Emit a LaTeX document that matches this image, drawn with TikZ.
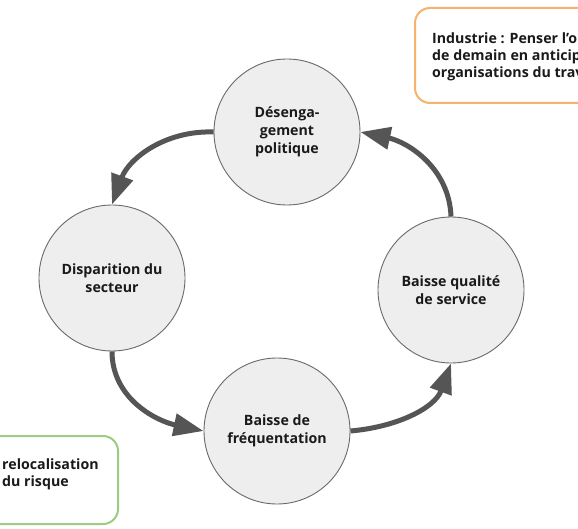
\documentclass[tikz,border=0pt]{standalone}
\usepackage{fontspec}
\setmainfont{Open Sans}
\usetikzlibrary{arrows.meta}
\definecolor{circfill}{HTML}{EEEEEE}
\definecolor{circline}{HTML}{6A6A6A}
\definecolor{arrowgray}{HTML}{555555}
\definecolor{txt}{HTML}{1A1A1A}
\definecolor{orangebox}{HTML}{F5B36E}
\definecolor{greenbox}{HTML}{9CCB82}
\begin{document}
\begin{tikzpicture}[x=1pt,y=-1pt,
  cyc/.style={circle, draw=circline, fill=circfill, minimum size=146pt, inner sep=0pt,
    align=center, text=txt, font=\bfseries\fontsize{14.2}{18}\selectfont, line width=0.9pt},
  flow/.style={draw=arrowgray, line width=5pt, -{Triangle[length=30pt,width=22pt]}},
  note/.style={rounded corners=15pt, line width=2pt, fill=white},
  notetext/.style={anchor=west, align=left, text=txt, inner sep=0pt,
    font=\bfseries\fontsize{14.2}{17}\selectfont}]
\useasboundingbox (0,0) rectangle (578,529);
\clip (0,0) rectangle (578,529);
\fill[white] (0,0) rectangle (578,529);

% note boxes
\draw[note, draw=orangebox] (415,8) rectangle (620,103);
\node[notetext] (ntop) at (432,57) {Industrie : Penser l'organisation\\de demain en anticipant les\\organisations du travail};
\draw[note, draw=greenbox] (-30,436) rectangle (118,524);
\node[notetext, anchor=north west] (nbot) at (2,459) {relocalisation\\du risque};

% cycle nodes
\node[cyc] (top) at (287,132) {Désenga-\\gement\\politique};
\node[cyc] (left) at (112,278) {Disparition du\\secteur};
\node[cyc] (right) at (451,290) {Baisse qualité\\de service};
\node[cyc] (bottom) at (277,431) {Baisse de\\fréquentation};

% arrows
\draw[flow] (top.west) to[out=178,in=70] (left.north);
\draw[flow] (left.south) to[out=-90,in=168] (bottom.west);
\draw[flow] (bottom.east) to[out=5,in=-110] (right.south);
\draw[flow] (right.north) to[out=92,in=-12] (top.east);
\end{tikzpicture}
\end{document}
